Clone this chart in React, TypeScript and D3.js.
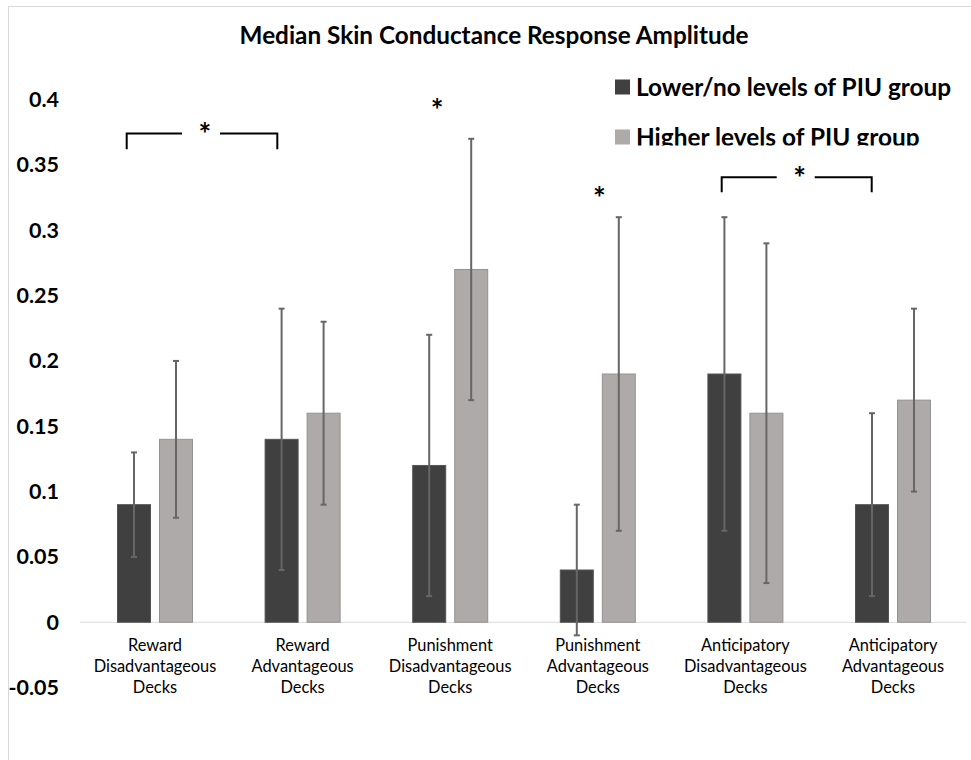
import React from "react";
import * as d3 from "d3";

// Deck condition labels, one line per entry
const categories: string[][] = [
  ["Reward", "Disadvantageous", "Decks"],
  ["Reward", "Advantageous", "Decks"],
  ["Punishment", "Disadvantageous", "Decks"],
  ["Punishment", "Advantageous", "Decks"],
  ["Anticipatory", "Disadvantageous", "Decks"],
  ["Anticipatory", "Advantageous", "Decks"],
];

const seriesNames = ["Lower/no levels of PIU group", "Higher levels of PIU group"];

// Median SCR amplitude per condition
const lowerValues = [0.09, 0.14, 0.12, 0.04, 0.19, 0.09];
const higherValues = [0.14, 0.16, 0.27, 0.19, 0.16, 0.17];

// Error bar extents (lower / upper ends)
const lowerErrLow = [0.05, 0.04, 0.02, -0.01, 0.07, 0.02];
const lowerErrHigh = [0.13, 0.24, 0.22, 0.09, 0.31, 0.16];
const higherErrLow = [0.08, 0.09, 0.17, 0.07, 0.03, 0.1];
const higherErrHigh = [0.2, 0.23, 0.37, 0.31, 0.29, 0.24];

const yTicks = [-0.05, 0, 0.05, 0.1, 0.15, 0.2, 0.25, 0.3, 0.35, 0.4];
const yTickLabels = ["-0.05", "0", "0.05", "0.1", "0.15", "0.2", "0.25", "0.3", "0.35", "0.4"];

// Significance brackets between condition pairs, and single stars
const brackets = [
  { from: 0, to: 1, level: 0.374, drop: 0.012, dl: -28.3, dr: -25.3 },
  { from: 4, to: 5, level: 0.3406, drop: 0.0116, dl: -23.7, dr: -21.3 },
];
const singleStars = [
  { cat: 2, level: 0.3967, shift: -13 },
  { cat: 3, level: 0.3295, shift: 1.5 },
];

const W = 971;
const H = 760;
const FONT = "Lato, 'Open Sans', sans-serif";
const DARK = "#404040";
const LIGHT = "#aeaaaa";
const ERR = "#666666";
const STAR_FS = 30;

export default function App() {
  const y = d3.scaleLinear().domain([-0.05, 0.4]).range([687.6, 99.6]);
  const x0 = d3
    .scaleBand<number>()
    .domain(categories.map((_, i) => i))
    .range([81.2, 966.8])
    .padding(0);
  const groupW = 75;
  const x1 = d3
    .scaleBand<string>()
    .domain(["lower", "higher"])
    .range([x0.bandwidth() / 2 - groupW / 2, x0.bandwidth() / 2 + groupW / 2])
    .paddingInner(9 / 42)
    .paddingOuter(0);

  const center = (i: number) => (x0(i) as number) + x0.bandwidth() / 2;
  // baseline that centres a bold asterisk on a given y
  const starBase = (cy: number) => cy + 0.56 * STAR_FS;

  const series = [
    { key: "lower", values: lowerValues, lo: lowerErrLow, hi: lowerErrHigh, fill: DARK, stroke: "#545454" },
    { key: "higher", values: higherValues, lo: higherErrLow, hi: higherErrHigh, fill: LIGHT, stroke: "#959292" },
  ];

  return (
    <svg
      width={W}
      height={H}
      viewBox={`0 0 ${W} ${H}`}
      style={{ position: "absolute", left: 0, top: 0, background: "#fff" }}
      fontFamily={FONT}
    >
      <defs>
        <clipPath id="legend-clip">
          <rect x={560} y={60} width={411} height={85.5} />
        </clipPath>
      </defs>
      <rect x={0} y={0} width={W} height={H} fill="#fff" />
      {/* chart area frame */}
      <rect x={8.5} y={6.5} width={W + 20} height={H + 20} fill="none" stroke="#d9d9d9" strokeWidth={1} />

      <text x={494} y={44} textAnchor="middle" fontSize={24.3} fontWeight={700} fill="#000">
        Median Skin Conductance Response Amplitude
      </text>

      {/* y axis tick labels */}
      {yTicks.map((t, i) => (
        <text
          key={t}
          x={59}
          y={y(t) + 7.5}
          textAnchor="end"
          fontSize={21.5}
          fontWeight={700}
          fill="#000"
        >
          {yTickLabels[i]}
        </text>
      ))}

      {/* zero line */}
      <line x1={x0.range()[0] - 1} x2={x0.range()[1]} y1={y(0)} y2={y(0)} stroke="#d9d9d9" strokeWidth={1.2} />

      {/* bars */}
      {series.map((s) =>
        s.values.map((v, i) => {
          const bx = center(i) - x0.bandwidth() / 2 + (x1(s.key) as number);
          return (
            <rect
              key={s.key + i}
              x={bx}
              y={y(v)}
              width={x1.bandwidth()}
              height={y(0) - y(v)}
              fill={s.fill}
              stroke={s.stroke}
              strokeWidth={1}
            />
          );
        })
      )}

      {/* error bars */}
      {series.map((s) =>
        s.values.map((_, i) => {
          const cx = center(i) - x0.bandwidth() / 2 + (x1(s.key) as number) + x1.bandwidth() / 2;
          return (
            <g key={"e" + s.key + i} stroke={ERR}>
              <line x1={cx} x2={cx} y1={y(s.lo[i])} y2={y(s.hi[i])} strokeWidth={2} />
              <line x1={cx - 3} x2={cx + 3} y1={y(s.lo[i])} y2={y(s.lo[i])} strokeWidth={2} />
              <line x1={cx - 3} x2={cx + 3} y1={y(s.hi[i])} y2={y(s.hi[i])} strokeWidth={2} />
            </g>
          );
        })
      )}

      {/* category labels */}
      {categories.map((lines, i) => (
        <text key={"c" + i} textAnchor="middle" fontSize={16.4} fill="#000">
          {lines.map((ln, j) => (
            <tspan key={j} x={center(i)} y={651 + j * 21.2}>
              {ln}
            </tspan>
          ))}
        </text>
      ))}

      {/* significance brackets */}
      {brackets.map((b, k) => {
        const left = center(b.from) + b.dl;
        const right = center(b.to) + b.dr;
        const top = y(b.level);
        const bottom = y(b.level - b.drop);
        const mid = (left + right) / 2;
        return (
          <g key={"b" + k} stroke="#000" strokeWidth={2} fill="none">
            <polyline points={`${left},${bottom} ${left},${top} ${mid - 20},${top}`} />
            <polyline points={`${mid + 18},${top} ${right},${top} ${right},${bottom}`} />
            <text
              x={mid + 3}
              y={starBase(top - 5.5)}
              textAnchor="middle"
              fontSize={STAR_FS}
              fontWeight={700}
              fill="#000"
              stroke="none"
            >
              *
            </text>
          </g>
        );
      })}
      {singleStars.map((s, k) => (
        <text
          key={"s" + k}
          x={center(s.cat) + s.shift}
          y={starBase(y(s.level))}
          textAnchor="middle"
          fontSize={STAR_FS}
          fontWeight={700}
          fill="#000"
        >
          *
        </text>
      ))}

      {/* legend */}
      <g clipPath="url(#legend-clip)">
        {seriesNames.map((name, i) => (
          <g key={name} transform={`translate(615, ${79.5 + i * 50})`}>
            <rect x={0} y={0} width={15} height={15} fill={i === 0 ? DARK : LIGHT} />
            <text x={21} y={16} fontSize={24.4} fontWeight={700} fill="#000">
              {name}
            </text>
          </g>
        ))}
      </g>
    </svg>
  );
}
